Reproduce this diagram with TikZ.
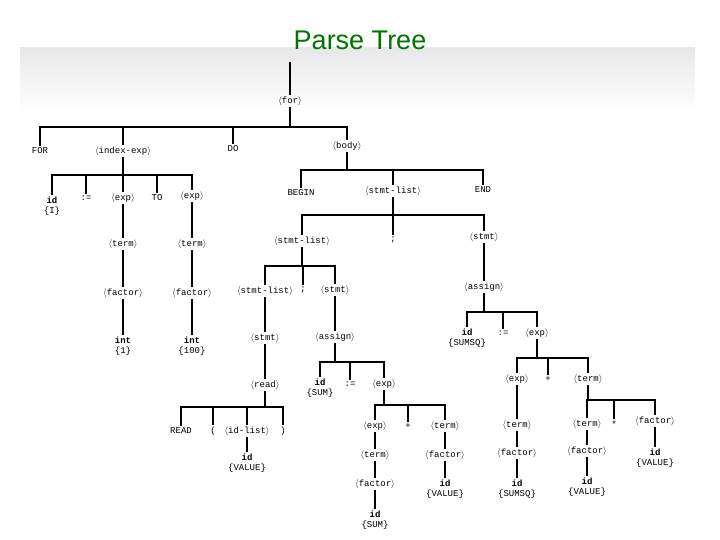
\documentclass[tikz,border=0pt]{standalone}
\usepackage{fontspec}
\setmainfont{Liberation Sans}
\setmonofont{Liberation Mono}
\usetikzlibrary{positioning}
\newcommand{\nt}[1]{$\langle$#1$\rangle$}
\newcommand{\leafid}[1]{\textbf{id}\\\{#1\}}
\newcommand{\leafint}[1]{\textbf{int}\\\{#1\}}
% parent, bar height, children
\newcommand{\branch}[3]{%
  \draw[edge] (#1.south) -- (#1.south |- 0,#2);
  \foreach \kid in {#3}
    \draw[edge] (#1.south |- 0,#2) -| (\kid.north);}

\begin{document}
\begin{tikzpicture}[x=1pt,y=-1pt]
    \tikzset{sym/.style={font=\ttfamily\fontsize{9}{9.5}\selectfont, inner sep=1.5pt, align=center},
             edge/.style={draw, line width=1.3pt}}
    \useasboundingbox (0,0) rectangle (720,540);
    \fill[white] (0,0) rectangle (720,540);
    \shade[top color=gray!18, bottom color=white] (20,48) rectangle (695,112);
    \node[font=\fontsize{27}{30}\selectfont, text=green!45!black] (title) at (360,40) {Parse Tree};

    % upper part
    \coordinate (top) at (290,62);
    \node[sym] (for) at (290,101) {\nt{for}};
    \node[sym] (kwfor) at (40,151) {FOR};
    \node[sym] (idx) at (123,151) {\nt{index-exp}};
    \node[sym] (kwdo) at (233,149) {DO};
    \node[sym] (body) at (347,146) {\nt{body}};

    \node[sym] (idI) at (52,206) {\leafid{I}};
    \node[sym] (as0) at (86,198) {:=};
    \node[sym] (exA) at (123,198) {\nt{exp}};
    \node[sym] (kwto) at (157,198) {TO};
    \node[sym] (exB) at (192,196) {\nt{exp}};
    \node[sym] (tmA) at (123,244) {\nt{term}};
    \node[sym] (tmB) at (192,244) {\nt{term}};
    \node[sym] (fcA) at (123,293) {\nt{factor}};
    \node[sym] (fcB) at (192,293) {\nt{factor}};
    \node[sym] (inA) at (123,346) {\leafint{1}};
    \node[sym] (inB) at (192,346) {\leafint{100}};

    \node[sym] (kwbegin) at (301,193) {BEGIN};
    \node[sym] (slA) at (393,191) {\nt{stmt-list}};
    \node[sym] (kwend) at (483,190) {END};
    \node[sym] (slB) at (302,241) {\nt{stmt-list}};
    \node[sym] (smA) at (393,240) {;};
    \node[sym] (stA) at (484,237) {\nt{stmt}};
    \node[sym] (slC) at (265,291) {\nt{stmt-list}};
    \node[sym] (smB) at (303,290) {;};
    \node[sym] (stB) at (335,290) {\nt{stmt}};

    % read branch
    \node[sym] (stC) at (265,338) {\nt{stmt}};
    \node[sym] (rd) at (265,385) {\nt{read}};
    \node[sym] (kwread) at (181,431) {READ};
    \node[sym] (lp) at (213,431) {(};
    \node[sym] (idl) at (247,431) {\nt{id-list}};
    \node[sym] (rp) at (283,431) {)};
    \node[sym] (idV1) at (247,463) {\leafid{VALUE}};

    % SUM := SUM + VALUE
    \node[sym] (asgA) at (335,337) {\nt{assign}};
    \node[sym] (idS1) at (320,388) {\leafid{SUM}};
    \node[sym] (as1) at (350,384) {:=};
    \node[sym] (exC) at (384,384) {\nt{exp}};
    \node[sym] (exD) at (375,426) {\nt{exp}};
    \node[sym] (pl1) at (408,426) {+};
    \node[sym] (tmC) at (445,426) {\nt{term}};
    \node[sym] (tmD) at (375,455) {\nt{term}};
    \node[sym] (fcC) at (375,484) {\nt{factor}};
    \node[sym] (idS2) at (375,520) {\leafid{SUM}};
    \node[sym] (fcD) at (445,455) {\nt{factor}};
    \node[sym] (idV2) at (445,489) {\leafid{VALUE}};

    % SUMSQ := SUMSQ + VALUE * VALUE
    \node[sym] (asgB) at (484,287) {\nt{assign}};
    \node[sym] (idQ1) at (467,338) {\leafid{SUMSQ}};
    \node[sym] (as2) at (503,333) {:=};
    \node[sym] (exE) at (537,333) {\nt{exp}};
    \node[sym] (exF) at (517,379) {\nt{exp}};
    \node[sym] (pl2) at (548,379) {+};
    \node[sym] (tmE) at (588,379) {\nt{term}};
    \node[sym] (tmF) at (517,425) {\nt{term}};
    \node[sym] (fcE) at (517,453) {\nt{factor}};
    \node[sym] (idQ2) at (517,489) {\leafid{SUMSQ}};
    \node[sym] (tmG) at (587,424) {\nt{term}};
    \node[sym] (ml) at (614,424) {*};
    \node[sym] (fcF) at (655,421) {\nt{factor}};
    \node[sym] (fcG) at (587,451) {\nt{factor}};
    \node[sym] (idV3) at (587,487) {\leafid{VALUE}};
    \node[sym] (idV4) at (655,458) {\leafid{VALUE}};

    % edges
    \draw[edge] (top) -- (for.north);
    \branch{for}{127}{kwfor,idx,kwdo,body}
    \branch{idx}{175}{idI,as0,exA,kwto,exB}
    \branch{exA}{220}{tmA}
    \branch{exB}{220}{tmB}
    \branch{tmA}{270}{fcA}
    \branch{tmB}{270}{fcB}
    \branch{fcA}{320}{inA}
    \branch{fcB}{320}{inB}
    \branch{body}{170}{kwbegin,slA,kwend}
    \branch{slA}{215}{slB,smA,stA}
    \branch{slB}{266}{slC,smB,stB}
    \branch{slC}{315}{stC}
    \branch{stC}{362}{rd}
    \branch{rd}{407}{kwread,lp,idl,rp}
    \branch{idl}{445}{idV1}
    \branch{stB}{315}{asgA}
    \branch{asgA}{362}{idS1,as1,exC}
    \branch{exC}{405}{exD,pl1,tmC}
    \branch{exD}{440}{tmD}
    \branch{tmD}{470}{fcC}
    \branch{fcC}{500}{idS2}
    \branch{tmC}{440}{fcD}
    \branch{fcD}{470}{idV2}
    \branch{stA}{262}{asgB}
    \branch{asgB}{312}{idQ1,as2,exE}
    \branch{exE}{358}{exF,pl2,tmE}
    \branch{exF}{400}{tmF}
    \branch{tmF}{440}{fcE}
    \branch{fcE}{470}{idQ2}
    \branch{tmE}{400}{tmG,ml,fcF}
    \branch{tmG}{440}{fcG}
    \branch{fcG}{468}{idV3}
    \branch{fcF}{438}{idV4}
\end{tikzpicture}
\end{document}
